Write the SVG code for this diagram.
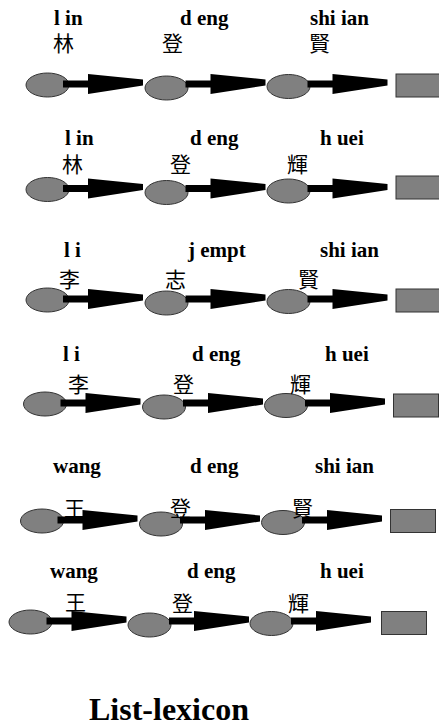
<svg xmlns="http://www.w3.org/2000/svg" xmlns:xlink="http://www.w3.org/1999/xlink" width="439" height="726" viewBox="0 0 439 726">
<style>
.n{fill:#808080;stroke:#333333;stroke-width:1}
.py{font-family:"Liberation Serif","Times New Roman",serif;font-weight:bold;font-size:21px;fill:#000}
.cj{font-family:"Noto Sans CJK TC","Noto Sans CJK SC",sans-serif;font-size:21px;fill:#000}
.t{font-family:"Liberation Serif","Times New Roman",serif;font-weight:bold;font-size:32px;fill:#000}
</style>
<defs>
<path id="arr" d="M0,-3.5 H25 V-10 L80,-4.5 V1.5 L25,10 V3.5 H0 Z" fill="#000"/>
</defs>
<rect width="439" height="726" fill="#fff"/>
<g id="nodes">
<g id="r1e1"><ellipse class="n" cx="47.5" cy="85" rx="21.5" ry="12"/></g>
<g id="r1e2"><ellipse class="n" cx="166.5" cy="88" rx="21.5" ry="12"/></g>
<g id="r1e3"><ellipse class="n" cx="288.5" cy="86.5" rx="21.5" ry="12"/></g>
<g id="r1end"><rect class="n" x="396" y="74" width="45" height="23"/></g>
<g id="r2e1"><ellipse class="n" cx="47.5" cy="189.5" rx="21.5" ry="12"/></g>
<g id="r2e2"><ellipse class="n" cx="166.5" cy="192.5" rx="21.5" ry="12"/></g>
<g id="r2e3"><ellipse class="n" cx="288.5" cy="191" rx="21.5" ry="12"/></g>
<g id="r2end"><rect class="n" x="396" y="176" width="45" height="23"/></g>
<g id="r3e1"><ellipse class="n" cx="47.5" cy="300" rx="21.5" ry="12"/></g>
<g id="r3e2"><ellipse class="n" cx="166.5" cy="303" rx="21.5" ry="12"/></g>
<g id="r3e3"><ellipse class="n" cx="288.5" cy="301.5" rx="21.5" ry="12"/></g>
<g id="r3end"><rect class="n" x="396" y="289" width="45" height="23"/></g>
<g id="r4e1"><ellipse class="n" cx="45" cy="404" rx="21.5" ry="12"/></g>
<g id="r4e2"><ellipse class="n" cx="164" cy="407" rx="21.5" ry="12"/></g>
<g id="r4e3"><ellipse class="n" cx="286" cy="405.5" rx="21.5" ry="12"/></g>
<g id="r4end"><rect class="n" x="393.5" y="394" width="45" height="23"/></g>
<g id="r5e1"><ellipse class="n" cx="42" cy="521" rx="21.5" ry="12"/></g>
<g id="r5e2"><ellipse class="n" cx="161" cy="524" rx="21.5" ry="12"/></g>
<g id="r5e3"><ellipse class="n" cx="283" cy="522.5" rx="21.5" ry="12"/></g>
<g id="r5end"><rect class="n" x="390.5" y="509.5" width="45" height="23"/></g>
<g id="r6e1"><ellipse class="n" cx="30.5" cy="622" rx="21.5" ry="12"/></g>
<g id="r6e2"><ellipse class="n" cx="149.5" cy="625" rx="21.5" ry="12"/></g>
<g id="r6e3"><ellipse class="n" cx="271.5" cy="623.5" rx="21.5" ry="12"/></g>
<g id="r6end"><rect class="n" x="381.5" y="611.5" width="45" height="23"/></g>
</g>
<g id="connectors">
<use xlink:href="#arr" href="#arr" x="63" y="84"/>
<use xlink:href="#arr" href="#arr" x="185.5" y="84"/>
<use xlink:href="#arr" href="#arr" x="307.5" y="84"/>
<use xlink:href="#arr" href="#arr" x="63" y="188.5"/>
<use xlink:href="#arr" href="#arr" x="185.5" y="188.5"/>
<use xlink:href="#arr" href="#arr" x="307.5" y="188.5"/>
<use xlink:href="#arr" href="#arr" x="63" y="299"/>
<use xlink:href="#arr" href="#arr" x="185.5" y="299"/>
<use xlink:href="#arr" href="#arr" x="307.5" y="299"/>
<use xlink:href="#arr" href="#arr" x="60.5" y="403"/>
<use xlink:href="#arr" href="#arr" x="183" y="403"/>
<use xlink:href="#arr" href="#arr" x="305" y="403"/>
<use xlink:href="#arr" href="#arr" x="57.5" y="520"/>
<use xlink:href="#arr" href="#arr" x="180" y="520"/>
<use xlink:href="#arr" href="#arr" x="302" y="520"/>
<use xlink:href="#arr" href="#arr" x="46.5" y="621"/>
<use xlink:href="#arr" href="#arr" x="169" y="621"/>
<use xlink:href="#arr" href="#arr" x="291" y="621"/>
</g>
<g id="labels">
<text class="py" x="54" y="25">l in</text>
<text class="cj" x="53" y="51">林</text>
<text class="py" x="180" y="25">d eng</text>
<text class="cj" x="162" y="51">登</text>
<text class="py" x="310" y="25">shi ian</text>
<text class="cj" x="309" y="51">賢</text>

<text class="py" x="65" y="145">l in</text>
<text class="cj" x="62" y="171.5">林</text>
<text class="py" x="190" y="145">d eng</text>
<text class="cj" x="170" y="171.5">登</text>
<text class="py" x="320" y="145">h uei</text>
<text class="cj" x="287" y="171.5">輝</text>

<text class="py" x="64" y="257">l i</text>
<text class="cj" x="59" y="286.5">李</text>
<text class="py" x="188" y="257">j empt</text>
<text class="cj" x="165" y="286.5">志</text>
<text class="py" x="320" y="257">shi ian</text>
<text class="cj" x="298" y="286.5">賢</text>

<text class="py" x="63" y="361">l i</text>
<text class="cj" x="68" y="391.5">李</text>
<text class="py" x="192" y="361">d eng</text>
<text class="cj" x="173" y="391.5">登</text>
<text class="py" x="325" y="361">h uei</text>
<text class="cj" x="290" y="391.5">輝</text>

<text class="py" x="53" y="473">wang</text>
<text class="cj" x="64" y="515.5">王</text>
<text class="py" x="190" y="473">d eng</text>
<text class="cj" x="170" y="515.5">登</text>
<text class="py" x="315" y="473">shi ian</text>
<text class="cj" x="292" y="515.5">賢</text>

<text class="py" x="50" y="578">wang</text>
<text class="cj" x="65" y="609.5">王</text>
<text class="py" x="187" y="578">d eng</text>
<text class="cj" x="172" y="610.5">登</text>
<text class="py" x="320" y="578">h uei</text>
<text class="cj" x="288" y="610.5">輝</text>

<text class="t" x="89" y="720">List-lexicon</text>
</g>
</svg>
